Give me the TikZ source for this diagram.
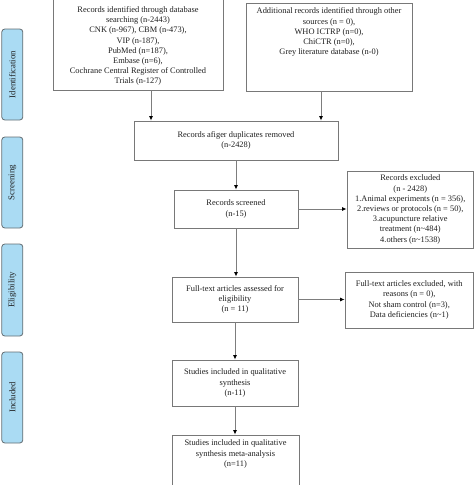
\documentclass[tikz,border=0pt]{standalone}
\usepackage{fontspec}
\setmainfont{Liberation Serif}
\usetikzlibrary{arrows.meta,calc}
\definecolor{boxgray}{RGB}{120,120,120}
\definecolor{linegray}{RGB}{125,125,125}
\definecolor{sidegray}{RGB}{100,110,115}
\definecolor{sideblue}{RGB}{170,219,243}
\definecolor{txt}{RGB}{30,30,30}
\tikzset{
  box/.style={draw=boxgray, line width=0.8pt, inner sep=0pt, align=center, text=txt,
    font=\fontsize{8.4}{10.2}\selectfont},
  side/.style={draw=sidegray, fill=sideblue, rounded corners=3pt, line width=0.8pt,
    rotate=90, minimum height=21pt, inner sep=0pt, text=txt,
    font=\fontsize{8.8}{10.2}\selectfont},
  arr/.style={draw=linegray, line width=0.9pt,
    -{Latex[length=4.5pt,width=4pt,color=black]}}
}
\begin{document}
\begin{tikzpicture}[x=1pt,y=-1pt]
\useasboundingbox (0,0) rectangle (474,485);
\clip (0,0) rectangle (474,485);
% sidebars
\node[side, minimum width=91pt] (s1) at (12.3,74.5) {Identification};
\node[side, minimum width=91pt] (s2) at (12.3,182.5) {Screening};
\node[side, minimum width=92pt] (s3) at (12.3,290) {Eligibility};
\node[side, minimum width=91pt] (s4) at (12.3,397.5) {Included};
% boxes
\node[box, minimum width=170pt, minimum height=92pt] (b1) at (138,44)
  {\parbox[c][92pt][t]{168pt}{\centering\vspace*{8.5pt}Records identified through database\\ searching (n-2443)\\ CNK (n-967), CBM (n-473),\\ VIP (n-187),\\ PubMed (n=187),\\ Embase (n=6),\\ Cochrane Central Register of Controlled\\ Trials (n-127)}};
\node[box, minimum width=166pt, minimum height=88pt] (b2) at (329,47)
  {\parbox[c][88pt][t]{164pt}{\centering\vspace*{5pt}Additional records identified through other\\ sources (n = 0),\\ WHO ICTRP (n=0),\\ ChiCTR (n=0),\\ Grey literature database (n-0)}};
\node[box, minimum width=204pt, minimum height=39pt] (b3) at (236,140.5)
  {Records afiger duplicates removed\\ (n-2428)};
\node[box, minimum width=124pt, minimum height=38pt] (b4) at (236,209)
  {Records screened\\ (n-15)};
\node[box, minimum width=126.5pt, minimum height=77pt] (b5) at (410.25,209.5)
  {Records excluded\\ (n - 2428)\\ 1.Animal experiments (n = 356),\\ 2.reviews or protocols (n = 50),\\ 3.acupuncture relative\\ treatment (n\textasciitilde484)\\ 4.others (n\textasciitilde1538)};
\node[box, minimum width=126pt, minimum height=45pt] (b6) at (235,299.5)
  {Full-text articles assessed for\\ eligibility\\ (n = 11)};
\node[box, minimum width=128.5pt, minimum height=56pt] (b7) at (409.25,300)
  {Full-text articles excluded, with\\ reasons (n = 0),\\ Not sham control (n=3),\\ Data deficiencies (n\textasciitilde1)};
\node[box, minimum width=126pt, minimum height=46pt] (b8) at (235,383)
  {Studies included in qualitative\\ synthesis\\ (n-11)};
\node[box, minimum width=127pt, minimum height=60pt] (b9) at (235.5,465)
  {\parbox[c][60pt][t]{125pt}{\centering\vspace*{5pt}Studies included in qualitative\\ synthesis meta-analysis\\ (n=11)}};
% connectors
\coordinate (xa) at (151,0);
\coordinate (xb) at (321,0);
\draw[arr] (b1.south -| xa) -- (b3.north -| xa);
\draw[arr] (b2.south -| xb) -- (b3.north -| xb);
\draw[arr] (b3.south) -- (b4.north);
\draw[arr] (b4.south) -- (b4.south |- b6.north);
\draw[arr] (b4.east) -- (b4.east -| b5.west);
\draw[arr] (b6.east) -- (b6.east -| b7.west);
\draw[arr] (b6.south) -- (b6.south |- b8.north);
\draw[arr] (b8.south) -- (b8.south |- b9.north);
\end{tikzpicture}
\end{document}
